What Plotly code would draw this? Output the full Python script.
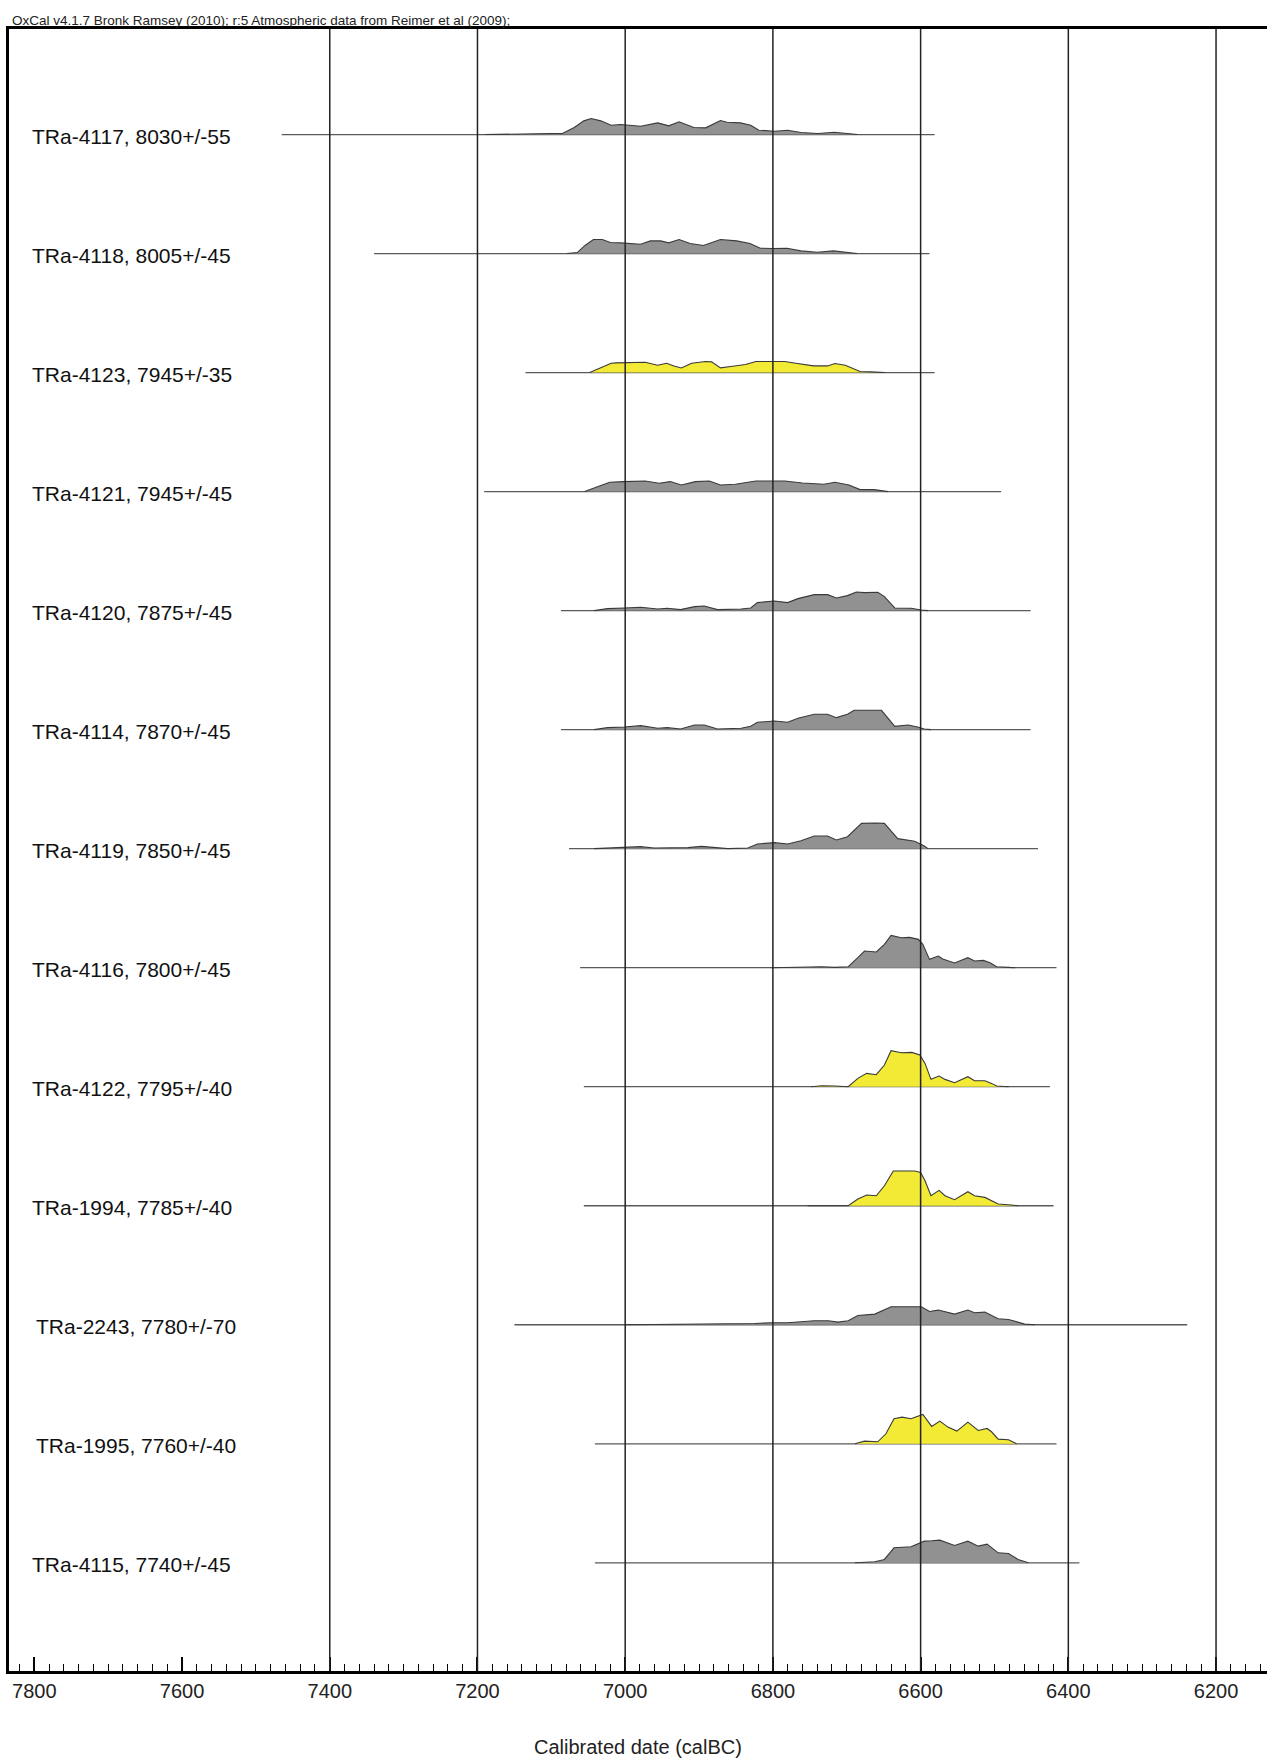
import plotly.graph_objects as go

# ---------------- data ----------------
labels = [
    "TRa-4117, 8030+/-55", "TRa-4118, 8005+/-45", "TRa-4123, 7945+/-35",
    "TRa-4121, 7945+/-45", "TRa-4120, 7875+/-45", "TRa-4114, 7870+/-45",
    "TRa-4119, 7850+/-45", "TRa-4116, 7800+/-45", "TRa-4122, 7795+/-40",
    "TRa-1994, 7785+/-40", "TRa-2243, 7780+/-70", "TRa-1995, 7760+/-40",
    "TRa-4115, 7740+/-45",
]
highlight = [False, False, True, False, False, False, False, False, True, True, False, True, False]

# extent of the calibrated range line (cal BC)
range_start = [7465, 7340, 7135, 7191, 7087, 7087, 7076, 7061, 7056, 7056, 7150, 7041, 7041]
range_end = [6581, 6588, 6581, 6491, 6451, 6451, 6441, 6416, 6425, 6420, 6239, 6416, 6385]

# probability density (relative units) sampled at calendar years (cal BC)
dens_years = [
    [7190, 7150, 7120, 7100, 7085, 7069, 7056, 7046, 7033, 7019, 7006, 6979, 6956, 6941, 6927,
     6907, 6891, 6871, 6862, 6844, 6830, 6819, 6798, 6780, 6762, 6739, 6717, 6685],
    [7079, 7065, 7054, 7043, 7031, 7020, 7006, 6988, 6979, 6966, 6952, 6941, 6927, 6912, 6894,
     6871, 6849, 6831, 6817, 6800, 6781, 6762, 6740, 6718, 6700, 6686],
    [7048, 7031, 7019, 7012, 6997, 6973, 6956, 6944, 6934, 6924, 6910, 6891, 6883, 6871, 6857,
     6837, 6823, 6803, 6784, 6769, 6745, 6726, 6716, 6702, 6682, 6668, 6648],
    [7055, 7041, 7021, 7002, 6973, 6954, 6939, 6924, 6905, 6886, 6871, 6851, 6823, 6784, 6760,
     6731, 6716, 6697, 6682, 6663, 6644],
    [7042, 7024, 7001, 6979, 6956, 6943, 6925, 6906, 6893, 6875, 6843, 6830, 6821, 6798, 6780,
     6766, 6744, 6726, 6714, 6699, 6687, 6676, 6658, 6649, 6635, 6613, 6599, 6590],
    [7042, 7024, 7001, 6979, 6956, 6943, 6925, 6906, 6893, 6875, 6843, 6830, 6821, 6798, 6780,
     6766, 6744, 6726, 6714, 6699, 6690, 6671, 6653, 6635, 6617, 6604, 6595, 6586],
    [7042, 7019, 6997, 6979, 6961, 6915, 6897, 6884, 6861, 6834, 6821, 6798, 6780, 6762, 6744,
     6726, 6714, 6699, 6680, 6662, 6649, 6631, 6617, 6608, 6595, 6590],
    [6802, 6766, 6734, 6716, 6698, 6685, 6676, 6660, 6649, 6640, 6626, 6615, 6603, 6597, 6588,
     6576, 6570, 6554, 6536, 6527, 6515, 6506, 6497, 6481, 6472],
    [6748, 6734, 6716, 6698, 6685, 6673, 6660, 6649, 6640, 6626, 6612, 6601, 6594, 6586, 6575,
     6567, 6554, 6536, 6527, 6513, 6504, 6497, 6481],
    [6753, 6698, 6685, 6673, 6660, 6649, 6637, 6608, 6600, 6594, 6586, 6575, 6567, 6554, 6536,
     6527, 6513, 6504, 6495, 6477, 6468],
    [7000, 6950, 6870, 6825, 6802, 6780, 6744, 6725, 6712, 6698, 6685, 6662, 6640, 6599, 6588,
     6576, 6554, 6536, 6527, 6513, 6495, 6481, 6459, 6445],
    [6689, 6676, 6658, 6647, 6636, 6625, 6613, 6597, 6585, 6574, 6563, 6551, 6536, 6522, 6510,
     6504, 6495, 6481, 6470],
    [6689, 6662, 6649, 6636, 6613, 6595, 6585, 6574, 6554, 6536, 6522, 6510, 6495, 6481, 6468, 6454],
]
dens_vals = [
    [0, 2, 3.5, 3, 3, 21, 41, 48, 41, 28, 30, 25, 35, 26, 38, 21, 20, 42, 37, 35, 28, 13, 10, 13, 6, 3, 7, 0],
    [0, 3, 25, 42, 42, 33, 32, 28, 28, 38, 38, 32, 42, 30, 24, 42, 38, 30, 16, 15, 16, 8, 4, 8, 4, 0],
    [0, 15, 28, 29, 30, 31, 22, 28, 20, 14, 28, 33, 32, 14, 18, 24, 33, 33, 33, 28, 20, 20, 27, 22, 3, 2, 0],
    [0, 12, 28, 30, 32, 25, 30, 20, 30, 32, 20, 22, 32, 32, 26, 22, 28, 20, 6, 6, 0],
    [0, 6, 8, 10, 5, 7, 3, 12, 14, 3, 5, 8, 24, 29, 24, 36, 48, 48, 38, 45, 56, 54, 55, 42, 8, 7, 2, 0],
    [0, 6, 8, 12, 4, 6, 2, 14, 14, 2, 4, 10, 22, 26, 22, 34, 46, 46, 36, 46, 58, 59, 58, 10, 14, 8, 2, 0],
    [0, 3, 4, 6, 2, 3, 7, 4, 0, 2, 14, 18, 14, 24, 38, 38, 26, 36, 76, 77, 76, 30, 26, 22, 8, 0],
    [0, 2, 3, 1, 3, 30, 50, 47, 70, 97, 90, 91, 85, 70, 25, 35, 26, 14, 30, 20, 22, 15, 3, 1, 0],
    [0, 3, 2, 0, 25, 40, 36, 65, 108, 102, 103, 95, 70, 22, 32, 22, 12, 30, 18, 18, 10, 2, 0],
    [0, 0, 20, 32, 30, 60, 104, 104, 100, 75, 30, 46, 30, 18, 42, 30, 25, 15, 5, 2, 0],
    [0, 1, 1, 4, 6, 6, 12, 12, 8, 12, 28, 32, 54, 54, 40, 44, 32, 44, 36, 38, 18, 16, 2, 0],
    [0, 8, 6, 30, 75, 80, 75, 88, 52, 68, 50, 38, 65, 40, 46, 36, 14, 12, 0],
    [0, 3, 10, 45, 48, 65, 66, 68, 52, 65, 50, 56, 30, 28, 10, 0],
]

tick_years = [7800, 7600, 7400, 7200, 7000, 6800, 6600, 6400, 6200]
grid_years = [7400, 7200, 7000, 6800, 6600, 6400, 6200]
x_range = [7834.3, 6131]

header = "OxCal v4.1.7 Bronk Ramsey (2010); r:5 Atmospheric data from Reimer et al (2009);"
x_title = "Calibrated date (calBC)"

# ---------------- style ----------------
FONT = "Liberation Sans, Arial, Helvetica, sans-serif"
GRAY_FILL = "#919191"
YELLOW_FILL = "#f2ea34"
DENS_SCALE = 1.0 / (3 * 119.0)   # density units -> row units
label_indent = [0, 0, 0, 0, 0, 0, 0, 0, 0, 0, 4, 4, 0]

W, H = 1267, 1760
M_L, M_R, M_T, M_B = 9, 0, 29, 89
plot_w = W - M_L - M_R
plot_h = H - M_T - M_B

fig = go.Figure()

for i, lab in enumerate(labels):
    fig.add_trace(go.Scatter(
        x=[range_start[i], range_end[i]], y=[i, i], mode="lines",
        line=dict(color="#5a5a5a", width=1.3), hoverinfo="skip", showlegend=False))
    yrs = dens_years[i]
    ys = [i - v * DENS_SCALE for v in dens_vals[i]]
    fig.add_trace(go.Scatter(
        x=yrs, y=ys, mode="lines", fill="toself",
        fillcolor=YELLOW_FILL if highlight[i] else GRAY_FILL,
        line=dict(color="#3a3a3a", width=1.1),
        hoverinfo="skip", showlegend=False))
    fig.add_annotation(
        x=(30 + label_indent[i] - M_L) / plot_w, xref="paper", y=i, yref="y",
        text=lab, showarrow=False, xanchor="left", yanchor="middle", yshift=-2,
        font=dict(family=FONT, size=21, color="#111"))

for g in grid_years:
    fig.add_shape(type="line", xref="x", yref="paper", x0=g, x1=g, y0=0, y1=1,
                  line=dict(color="#222", width=1.5), layer="above")

fig.add_annotation(
    x=(10 - M_L) / plot_w, xref="paper", y=1 + (M_T - 20) / plot_h, yref="paper",
    text=header, showarrow=False, xanchor="left", yanchor="middle",
    font=dict(family=FONT, size=13.5, color="#222"))

fig.add_annotation(
    x=(638 - M_L) / plot_w, xref="paper", y=-(1747 - (H - M_B)) / plot_h, yref="paper",
    text=x_title, showarrow=False, xanchor="center", yanchor="middle",
    font=dict(family=FONT, size=20, color="#222"))

fig.update_layout(
    width=W, height=H,
    margin=dict(l=M_L, r=M_R, t=M_T, b=M_B, autoexpand=False),
    paper_bgcolor="white", plot_bgcolor="white",
    showlegend=False,
    xaxis=dict(
        range=x_range, tickvals=tick_years, ticktext=[str(t) for t in tick_years],
        ticks="inside", ticklen=14, tickwidth=2, tickcolor="black",
        showgrid=False, zeroline=False, automargin=False,
        showline=True, linewidth=3, linecolor="black", mirror=True,
        minor=dict(dtick=20, tick0=0, ticks="inside", ticklen=7, tickwidth=1.2,
                   tickcolor="black", showgrid=False),
        tickfont=dict(family=FONT, size=20, color="#222"),
    ),
    yaxis=dict(
        range=[12.909, -0.8866], showticklabels=False, showgrid=False, zeroline=False,
        showline=True, linewidth=3, linecolor="black", ticks="", automargin=False,
    ),
)

fig.write_html(
    "out.html",
    config={"displayModeBar": False},
    post_script="document.body.style.margin='0';document.body.style.overflow='hidden';",
)
